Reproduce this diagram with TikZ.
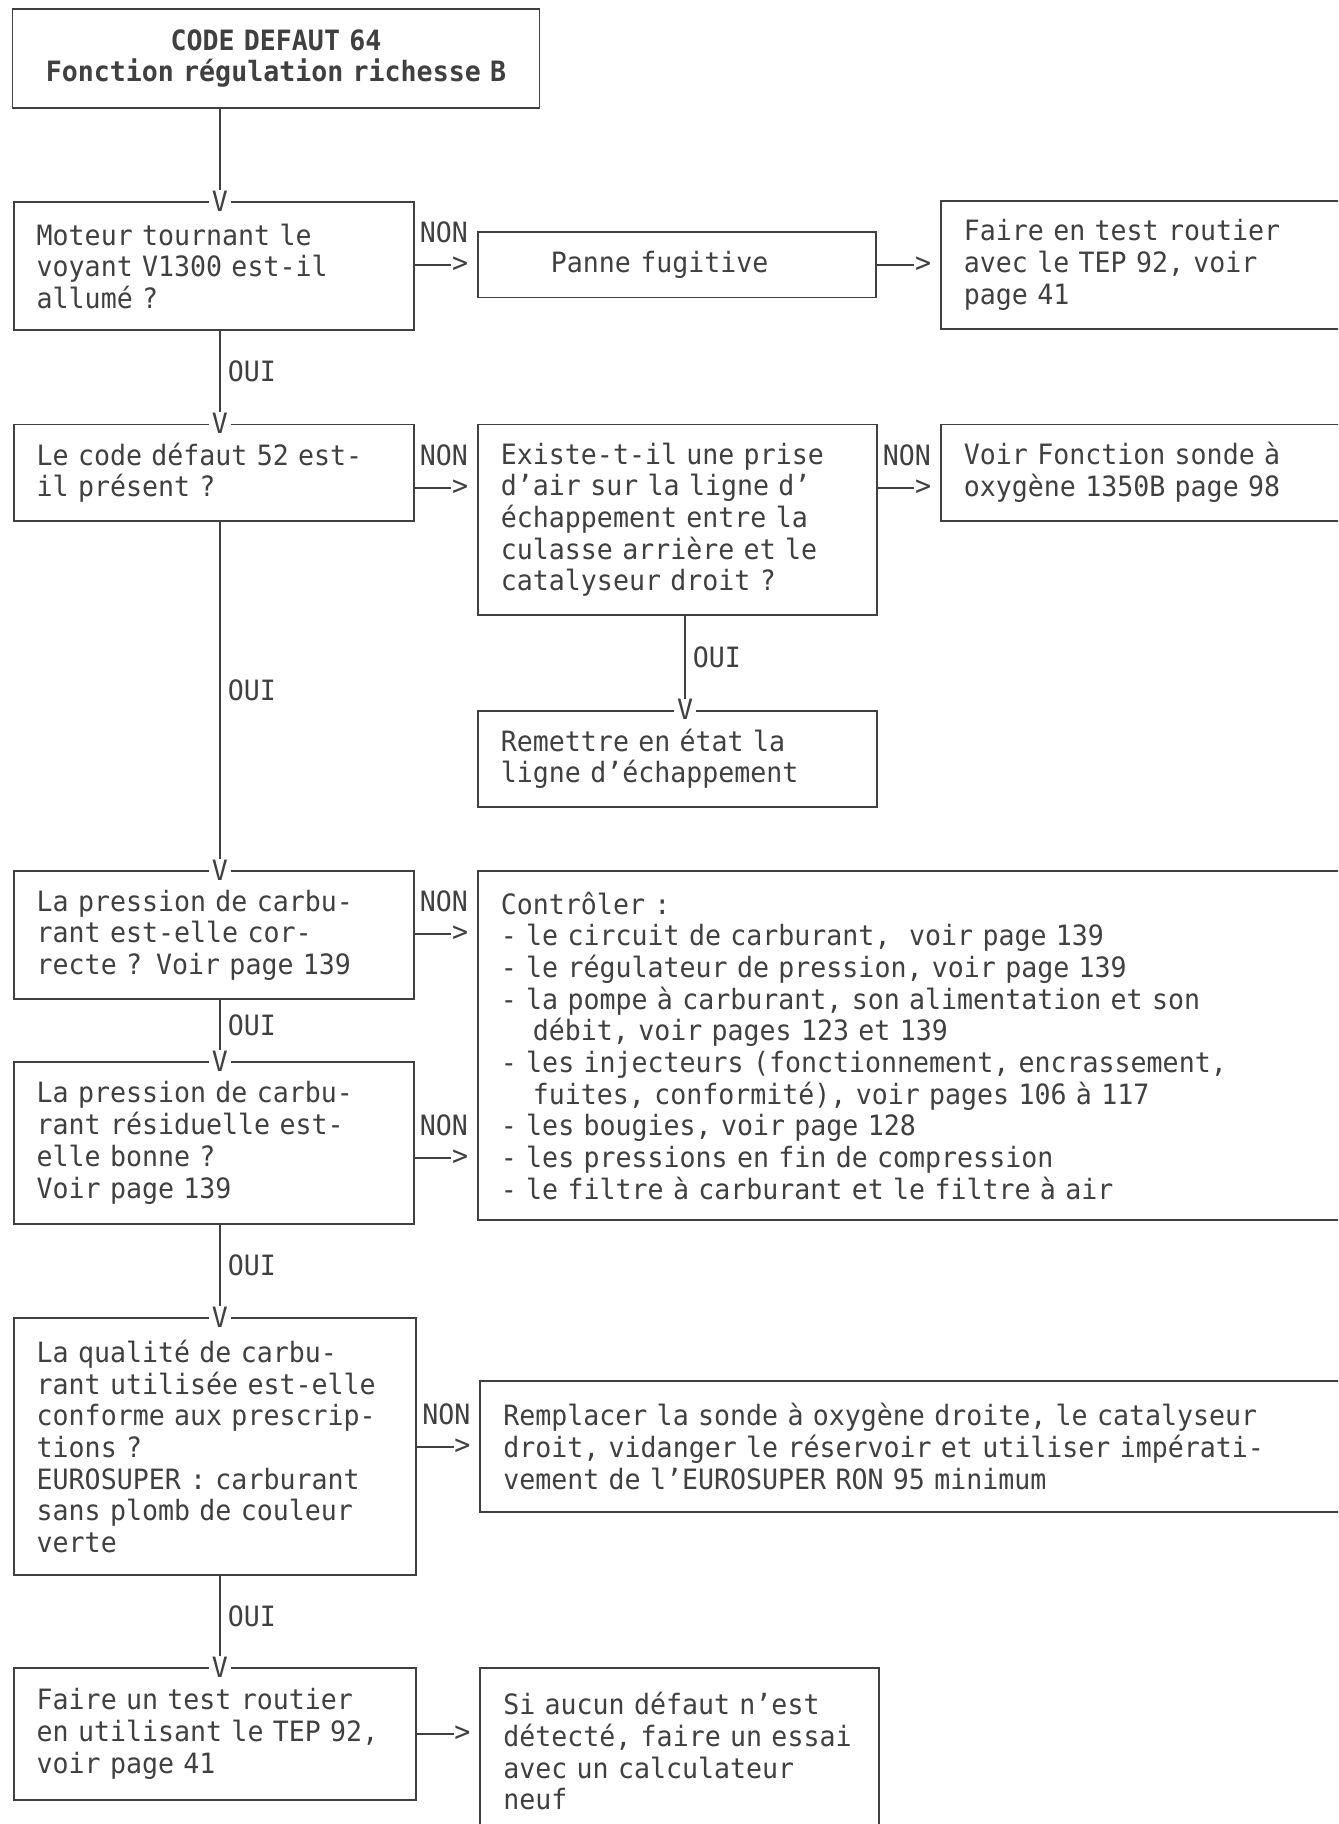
\documentclass[tikz,border=0pt]{standalone}
\usepackage{fontspec}
\newfontfamily\tipo{DejaVu Sans Mono}[FakeStretch=0.95]
\usetikzlibrary{positioning}
\definecolor{inchiostro}{gray}{0.25}

\begin{document}
\begin{tikzpicture}[x=0.5pt,y=-0.5pt,line width=0.9pt,color=inchiostro,
        testo/.style={font=\tipo\fontsize{14pt}{15.85pt}\selectfont},
        riquadro/.style={testo,draw,rectangle,anchor=north west,align=left,inner xsep=11.5pt,inner ysep=0pt},
        vtip/.style={testo,fill=white,inner xsep=1.5pt,inner ysep=0pt},
        htip/.style={testo,anchor=east,inner sep=0pt},
        etich/.style={testo,inner sep=0pt}]
        %cornice
        \useasboundingbox (0,0) rectangle (1338,1824);
        \clip (0,0) rectangle (1338,1824);
        \fill[white] (0,0) rectangle (1338,1824);
        %assi e righe delle frecce
        \coordinate (spine) at (220,0);
        \coordinate (spine2) at (685,0);
        \coordinate (r1) at (0,265);
        \coordinate (r2) at (0,488);
        \coordinate (r3) at (0,934);
        \coordinate (r4) at (0,1158);
        \coordinate (r5) at (0,1447);
        \coordinate (r6) at (0,1734);
        %colonna sinistra
        \node[riquadro,align=center,inner xsep=4pt,text width=255.5pt,minimum height=49.5pt] (titolo) at (11.6,8.1) {\bfseries CODE DEFAUT 64\\\bfseries Fonction régulation richesse B};
        \node[riquadro,text width=177pt,minimum height=64pt] (b1) at (12.8,201.3) {Moteur tournant le\\voyant V1300 est-il\\allumé ?};
        \node[riquadro,text width=177pt,minimum height=48.25pt] (b2) at (12.8,423.5) {Le code défaut 52 est-\\il présent ?};
        \node[riquadro,text width=177pt,minimum height=64pt] (b3) at (12.8,870.3) {La pression de carbu-\\rant est-elle cor-\\recte ? Voir page 139};
        \node[riquadro,text width=177pt,minimum height=80.85pt] (b4) at (12.8,1061.1) {La pression de carbu-\\rant résiduelle est-\\elle bonne ?\\Voir page 139};
        \node[riquadro,text width=178.3pt,minimum height=128.55pt] (b5) at (12.8,1317) {La qualité de carbu-\\rant utilisée est-elle\\conforme aux prescrip-\\tions ?\\EUROSUPER : carburant\\sans plomb de couleur\\verte};
        \node[riquadro,text width=178.3pt,minimum height=65.75pt] (b6) at (12.8,1667.3) {Faire un test routier\\\mbox{en utilisant le TEP 92,}\\voir page 41};
        %colonna destra
        \node[riquadro,inner xsep=36.5pt,text width=126pt,minimum height=32.6pt] (pan) at (477,231.5) {Panne fugitive};
        \node[riquadro,text width=187pt,minimum height=64pt] (ft) at (940,200) {Faire en test routier\\avec le TEP 92, voir\\page 41};
        \node[riquadro,text width=176.5pt,minimum height=95.25pt] (ex) at (477,423.5) {Existe-t-il une prise\\d’air sur la ligne d’\\échappement entre la\\culasse arrière et le\\catalyseur droit ?};
        \node[riquadro,text width=187pt,minimum height=48.25pt] (vf) at (940,423.5) {Voir Fonction sonde à\\oxygène 1350B page 98};
        \node[riquadro,text width=176.5pt,minimum height=48.3pt] (rm) at (477,709.7) {Remettre en état la\\ligne d’échappement};
        \node[riquadro,text width=418.5pt,minimum height=174.5pt] (ct) at (477,870.3) {Contrôler :\\- le circuit de carburant, \ voir page 139\\- le régulateur de pression, voir page 139\\- la pompe à carburant, son alimentation et son\\\hspace*{16pt}débit, voir pages 123 et 139\\- les injecteurs (fonctionnement, encrassement,\\\hspace*{16pt}fuites, conformité), voir pages 106 à 117\\- les bougies, voir page 128\\- les pressions en fin de compression\\- le filtre à carburant et le filtre à air};
        \node[riquadro,text width=417.3pt,minimum height=65.75pt] (rp) at (479.4,1379.9) {Remplacer la sonde à oxygène droite, le catalyseur\\droit, vidanger le réservoir et utiliser impérati-\\vement de l’EUROSUPER RON 95 minimum};
        \node[riquadro,text width=176.5pt,minimum height=83pt] (sa) at (479.4,1667.3) {Si aucun défaut n’est\\\mbox{détecté, faire un essai}\\avec un calculateur\\neuf};
        %punte verticali
        \node[vtip] (v1) at (b1.north -| spine) {V};
        \node[vtip] (v2) at (b2.north -| spine) {V};
        \node[vtip] (v3) at (b3.north -| spine) {V};
        \node[vtip] (v4) at (b4.north -| spine) {V};
        \node[vtip] (v5) at (b5.north -| spine) {V};
        \node[vtip] (v6) at (b6.north -| spine) {V};
        \node[vtip] (v7) at (rm.north -| spine2) {V};
        %punte orizzontali
        \node[htip,xshift=-4pt] (h1) at (pan.west |- r1) {>};
        \node[htip,xshift=-4pt] (h2) at (ft.west |- r1) {>};
        \node[htip,xshift=-4pt] (h3) at (ex.west |- r2) {>};
        \node[htip,xshift=-4pt] (h4) at (vf.west |- r2) {>};
        \node[htip,xshift=-4pt] (h5) at (ct.west |- r3) {>};
        \node[htip,xshift=-4pt] (h6) at (ct.west |- r4) {>};
        \node[htip,xshift=-4pt] (h7) at (rp.west |- r5) {>};
        \node[htip,xshift=-4pt] (h8) at (sa.west |- r6) {>};
        %collegamenti OUI
        \draw (titolo.south -| spine) -- (v1.north);
        \draw (b1.south -| spine) -- (v2.north) node[etich,midway,right=3.5pt]{OUI};
        \draw (b2.south -| spine) -- (v3.north) node[etich,midway,right=3.5pt]{OUI};
        \draw (b3.south -| spine) -- (v4.north) node[etich,midway,right=3.5pt]{OUI};
        \draw (b4.south -| spine) -- (v5.north) node[etich,midway,right=3.5pt]{OUI};
        \draw (b5.south -| spine) -- (v6.north) node[etich,midway,right=3.5pt]{OUI};
        \draw (ex.south -| spine2) -- (v7.north) node[etich,midway,right=3.5pt]{OUI};
        %collegamenti NON
        \draw (b1.east |- h1) -- (h1.west) node[etich,pos=0.8,above=10.5pt]{NON};
        \draw (pan.east |- h2) -- (h2.west);
        \draw (b2.east |- h3) -- (h3.west) node[etich,pos=0.8,above=10.5pt]{NON};
        \draw (ex.east |- h4) -- (h4.west) node[etich,pos=0.8,above=10.5pt]{NON};
        \draw (b3.east |- h5) -- (h5.west) node[etich,pos=0.8,above=10.5pt]{NON};
        \draw (b4.east |- h6) -- (h6.west) node[etich,pos=0.8,above=10.5pt]{NON};
        \draw (b5.east |- h7) -- (h7.west) node[etich,pos=0.8,above=10.5pt]{NON};
        \draw (b6.east |- h8) -- (h8.west);
\end{tikzpicture}
\end{document}
